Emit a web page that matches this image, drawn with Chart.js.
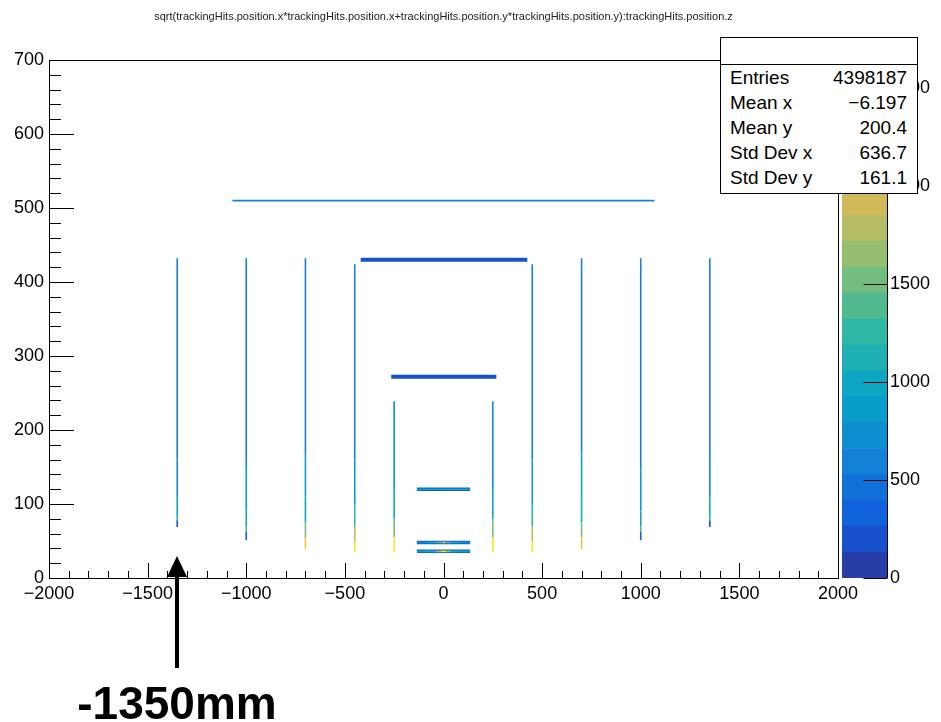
<!DOCTYPE html>
<html>
<head>
<meta charset="utf-8">
<script src="https://cdn.jsdelivr.net/npm/chart.js@4.4.1/dist/chart.umd.min.js"></script>
<style>
  body { margin: 0; background: #fff; }
  #wrap { position: relative; width: 941px; height: 722px; }
  #main { position: absolute; left: 0; top: 0; }
  #pal { position: absolute; left: 838px; top: 40px; }
  #stats { position: absolute; left: 720px; top: 37px; width: 196px; height: 155px; border: 1px solid #000;
           background: #fff; font: 19px "Liberation Sans", Arial, sans-serif; color: #000; }
  #stats .head { height: 26px; border-bottom: 1px solid #000; }
  #stats .row { display: flex; justify-content: space-between; height: 25px; line-height: 25px; padding: 0 10px 0 9px; }
</style>
</head>
<body>
<div id="wrap">
  <canvas id="main" width="941" height="722"></canvas>
  <canvas id="pal" width="103" height="560"></canvas>
  <div id="stats"><div class="head"></div></div>
</div>
<script>
const titleText = 'sqrt(trackingHits.position.x*trackingHits.position.x+trackingHits.position.y*trackingHits.position.y):trackingHits.position.z';

// endcap disks: vertical strokes at fixed z, r samples from top to bottom, counts per piece
const diskZ = [-1350, -1000, -700, -450, -250, 250, 450, 700, 1000, 1350];
const diskR = [
  [432, 160, 110, 85, 78, 69],
  [432, 150, 90, 70, 62, 51],
  [432, 170, 110, 75, 55, 39],
  [424, 160, 100, 70, 50, 35],
  [239, 120, 80, 55, 35],
  [239, 120, 80, 55, 35],
  [424, 160, 100, 70, 50, 35],
  [432, 170, 110, 75, 55, 39],
  [432, 150, 90, 70, 62, 51],
  [432, 160, 110, 85, 78, 69]
];
const diskCounts = [
  [620, 750, 950, 1200, 250],
  [650, 800, 1000, 1400, 300],
  [650, 800, 1000, 1500, 2200],
  [650, 850, 1200, 1800, 2500],
  [680, 950, 1500, 2500],
  [680, 950, 1500, 2500],
  [650, 850, 1200, 1800, 2500],
  [650, 800, 1000, 1500, 2200],
  [650, 800, 1000, 1400, 300],
  [620, 750, 950, 1200, 250]
];

// barrel layers: horizontal strokes at fixed r
const barrelR = [36, 48, 120, 272, 430, 510];
const barrelZmin = [-135, -135, -135, -265, -420, -1070];
const barrelZmax = [135, 135, 135, 268, 425, 1070];
const barrelCounts = [300, 300, 300, 220, 220, 600];

// brighter core of the inner layers, counts along z
const coreR = [36, 48, 120];
const coreZ = [
  [-135, -90, -40, -15, 15, 40, 90, 135],
  [-135, -90, -40, -10, 10, 40, 90, 135],
  [-135, 135]
];
const coreCounts = [
  [800, 1100, 1700, 2500, 1700, 1100, 800],
  [700, 1000, 1400, 2100, 1400, 1000, 700],
  [900]
];

const zMax = 2643;
const paletteTicks = [0, 500, 1000, 1500, 2000, 2500];

const statLabels = ['Entries', 'Mean x', 'Mean y', 'Std Dev x', 'Std Dev y'];
const statValues = ['4398187', '\u22126.197', '200.4', '636.7', '161.1'];

const noteZ = -1350;
const noteText = '-1350mm';

// ROOT kBird palette (255 colours), 20 contour levels
const birdStops = [0, 0.125, 0.25, 0.375, 0.5, 0.625, 0.75, 0.875, 1];
const birdRed = [0.2082, 0.0592, 0.0780, 0.0232, 0.1802, 0.5301, 0.8186, 0.9956, 0.9764];
const birdGreen = [0.1664, 0.3599, 0.5041, 0.6419, 0.7178, 0.7492, 0.7328, 0.7862, 0.9832];
const birdBlue = [0.5293, 0.8684, 0.8385, 0.7914, 0.6425, 0.4662, 0.3499, 0.1968, 0.0539];
const nLevels = 20;

function birdAt(f) {
  let k = 0;
  while (k < birdStops.length - 2 && f > birdStops[k + 1]) k++;
  const t = (f - birdStops[k]) / (birdStops[k + 1] - birdStops[k]);
  const mix = a => Math.round(255 * (a[k] + (a[k + 1] - a[k]) * t));
  return `rgb(${mix(birdRed)},${mix(birdGreen)},${mix(birdBlue)})`;
}
// same colour pick as ROOT: index = int((level + 0.99) * ncolors / nlevels)
function levelColor(i) { return birdAt(Math.floor((i + 0.99) * 255 / nLevels) / 254); }
function countColor(c) {
  const i = Math.max(0, Math.min(nLevels - 1, Math.floor(c / (zMax / nLevels))));
  return levelColor(i);
}

const font = { family: '"Liberation Sans", Arial, sans-serif', size: 18 };
const minus = v => String(v).replace('-', '\u2212');

function stroke(points, counts, width, order) {
  return {
    data: points,
    order: order,
    showLine: true,
    pointRadius: 0,
    borderWidth: width,
    borderColor: countColor(counts[0]),
    segment: { borderColor: ctx => countColor(counts[ctx.p0DataIndex]) }
  };
}

const datasets = [];
diskZ.forEach((z, i) => {
  datasets.push(stroke(diskR[i].map(r => ({ x: z, y: r })), diskCounts[i], 1.6, 1));
});
barrelR.forEach((r, i) => {
  const w = i === 5 ? 1.8 : (i >= 3 ? 4 : 3.5);
  datasets.push(stroke([{ x: barrelZmin[i], y: r }, { x: barrelZmax[i], y: r }], [barrelCounts[i]], w, 1));
});
coreR.forEach((r, i) => {
  datasets.push(stroke(coreZ[i].map(z => ({ x: z, y: r })), coreCounts[i], 1.5, 0));
});

const framePlugin = {
  id: 'frame',
  afterDatasetsDraw(chart) {
    const { ctx, chartArea: a, scales: { x, y } } = chart;
    ctx.save();
    ctx.strokeStyle = '#000';
    ctx.lineWidth = 1;
    ctx.strokeRect(a.left + 0.5, a.top + 0.5, a.right - a.left, a.bottom - a.top);
    ctx.beginPath();
    for (let v = -2000; v <= 2000; v += 100) {
      const px = Math.round(x.getPixelForValue(v)) + 0.5;
      ctx.moveTo(px, a.bottom);
      ctx.lineTo(px, a.bottom - (v % 500 === 0 ? 15 : 7));
    }
    for (let v = 0; v <= 700; v += 20) {
      const py = Math.round(y.getPixelForValue(v)) + 0.5;
      ctx.moveTo(a.left, py);
      ctx.lineTo(a.left + (v % 100 === 0 ? 25 : 12), py);
    }
    ctx.stroke();
    ctx.restore();
  },
  afterDraw(chart) {
    const { ctx, scales: { x } } = chart;
    ctx.save();
    ctx.fillStyle = '#222';
    ctx.font = '11px "Liberation Sans", Arial, sans-serif';
    ctx.textAlign = 'center';
    ctx.textBaseline = 'middle';
    ctx.fillText(titleText, x.getPixelForValue(0), 17);

    // arrow and note
    const px = Math.round(x.getPixelForValue(noteZ));
    ctx.fillStyle = '#000';
    ctx.fillRect(px - 2, 574, 4, 94);
    ctx.beginPath();
    ctx.moveTo(px, 556);
    ctx.lineTo(px - 10, 577);
    ctx.lineTo(px + 10, 577);
    ctx.closePath();
    ctx.fill();
    ctx.font = 'bold 46px "Liberation Sans", Arial, sans-serif';
    ctx.textBaseline = 'alphabetic';
    ctx.fillText(noteText, px, 719);
    ctx.restore();
  }
};

new Chart(document.getElementById('main'), {
  type: 'scatter',
  data: { datasets },
  options: {
    responsive: false,
    animation: false,
    layout: { padding: { top: 60, right: 103, left: 0, bottom: 0 } },
    plugins: { legend: { display: false }, tooltip: { enabled: false } },
    scales: {
      x: {
        type: 'linear', min: -2000, max: 2000,
        grid: { display: false, drawTicks: false }, border: { display: false },
        ticks: { stepSize: 500, padding: 5, color: '#000', font, maxRotation: 0, callback: minus },
        afterFit: s => { s.height = 144; }
      },
      y: {
        type: 'linear', min: 0, max: 700,
        grid: { display: false, drawTicks: false }, border: { display: false },
        ticks: { stepSize: 100, padding: 5, color: '#000', font },
        afterFit: s => { s.width = 49; }
      }
    }
  },
  plugins: [framePlugin]
});

// colour bar
const palPlugin = {
  id: 'palframe',
  afterDraw(chart) {
    const { ctx, chartArea: a, scales: { y } } = chart;
    ctx.save();
    ctx.strokeStyle = '#000';
    ctx.lineWidth = 1;
    ctx.beginPath();
    const rx = Math.round(a.right) + 0.5;
    ctx.moveTo(rx, a.top);
    ctx.lineTo(rx, a.bottom);
    paletteTicks.forEach(v => {
      const py = Math.round(y.getPixelForValue(v)) + 0.5;
      ctx.moveTo(rx, py);
      ctx.lineTo(rx - 24, py);
    });
    ctx.stroke();
    ctx.restore();
  }
};

new Chart(document.getElementById('pal'), {
  type: 'bar',
  data: {
    labels: [''],
    datasets: Array.from({ length: nLevels }, (_, i) => ({
      data: [zMax / nLevels],
      backgroundColor: levelColor(i),
      borderWidth: 0,
      barPercentage: 1,
      categoryPercentage: 1
    }))
  },
  options: {
    responsive: false,
    animation: false,
    layout: { padding: { top: 20, bottom: 22, left: 4, right: 0 } },
    plugins: { legend: { display: false }, tooltip: { enabled: false } },
    scales: {
      x: { display: false, stacked: true },
      y: {
        stacked: true, position: 'right', min: 0, max: zMax,
        grid: { display: false, drawTicks: false }, border: { display: false },
        ticks: { padding: 3, color: '#000', font, autoSkip: false, callback: v => String(v) },
        afterBuildTicks: s => { s.ticks = paletteTicks.map(v => ({ value: v })); },
        afterFit: s => { s.width = 54; }
      }
    }
  },
  plugins: [palPlugin]
});

// stats box
const stats = document.getElementById('stats');
statLabels.forEach((label, i) => {
  const row = document.createElement('div');
  row.className = 'row';
  row.innerHTML = `<span>${label}</span><span>${statValues[i]}</span>`;
  stats.appendChild(row);
});
</script>
</body>
</html>
